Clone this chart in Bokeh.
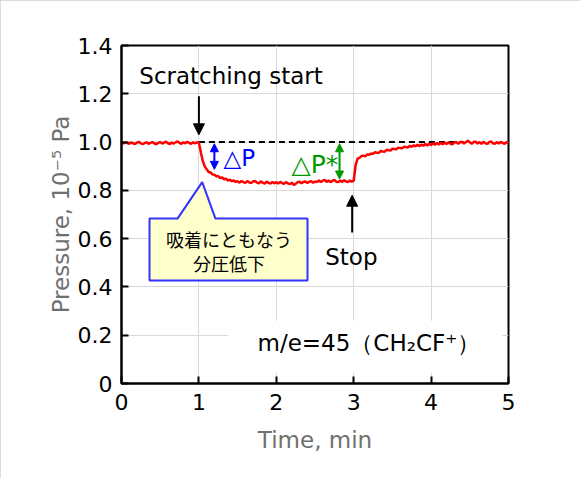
import numpy as np
from bokeh.plotting import figure
from bokeh.models import (FixedTicker, Arrow, NormalHead, Label)
from bokeh.embed import file_html
from bokeh.resources import INLINE

# ---------------- data ----------------
x_ticks = [0, 1, 2, 3, 4, 5]
y_ticks = [0, 0.2, 0.4, 0.6, 0.8, 1.0, 1.2, 1.4]
y_tick_labels = ["0", "0.2", "0.4", "0.6", "0.8", "1.0", "1.2", "1.4"]
step_min = 0.025
pressure = [
    # 0.000 - 0.975
    0.999, 0.994, 1.000, 0.996, 0.993, 0.999, 0.995, 0.992, 0.998, 1.001,
    0.995, 0.991, 0.996, 0.999, 0.993, 0.997, 1.000, 0.994, 0.991, 0.997,
    1.000, 0.994, 0.998, 1.002, 0.995, 0.992, 0.998, 0.994, 0.999, 1.003,
    0.996, 0.993, 0.999, 0.995, 1.001, 0.996, 0.993, 0.999, 0.995, 0.999,
    # 1.000 - 1.475
    0.997, 0.958, 0.922, 0.899, 0.888, 0.876, 0.874, 0.866, 0.865, 0.858,
    0.859, 0.851, 0.853, 0.846, 0.848, 0.841, 0.844, 0.838, 0.841, 0.835,
    # 1.500 - 1.975
    0.838, 0.832, 0.839, 0.834, 0.831, 0.838, 0.833, 0.830, 0.837, 0.839,
    0.832, 0.829, 0.837, 0.832, 0.828, 0.836, 0.831, 0.828, 0.835, 0.829,
    # 2.000 - 2.475
    0.834, 0.828, 0.835, 0.830, 0.827, 0.834, 0.829, 0.826, 0.832, 0.822,
    0.827, 0.834, 0.836, 0.829, 0.835, 0.837, 0.830, 0.836, 0.838, 0.831,
    # 2.500 - 2.975
    0.837, 0.834, 0.841, 0.835, 0.840, 0.843, 0.835, 0.841, 0.834, 0.840,
    0.843, 0.836, 0.834, 0.841, 0.835, 0.842, 0.837, 0.834, 0.841, 0.836,
    # 3.000 - 3.975
    0.840, 0.905, 0.931, 0.935, 0.942, 0.944, 0.941, 0.949, 0.947, 0.953,
    0.951, 0.958, 0.956, 0.955, 0.963, 0.961, 0.960, 0.968, 0.966, 0.965,
    0.973, 0.971, 0.970, 0.977, 0.975, 0.974, 0.981, 0.979, 0.977, 0.985,
    0.980, 0.987, 0.982, 0.989, 0.983, 0.990, 0.985, 0.992, 0.986, 0.993,
    # 4.000 - 4.475
    0.988, 0.995, 0.989, 0.996, 0.990, 0.997, 0.991, 0.998, 0.992, 0.999,
    0.993, 0.991, 0.998, 1.000, 0.993, 0.999, 1.001, 0.994, 1.000, 1.005,
    # 4.500 - 5.000
    0.999, 0.993, 1.000, 1.002, 0.994, 1.000, 0.993, 1.001, 0.996, 0.992,
    1.000, 1.003, 0.995, 0.993, 1.000, 0.994, 1.001, 0.996, 0.993, 1.000, 0.995,
]
time_min = np.arange(len(pressure)) * step_min

FONT = "DejaVu Sans"
JP = "Noto Sans CJK JP"

p = figure(width=580, height=478, x_range=(0, 5), y_range=(0, 1.4),
           output_backend="svg", toolbar_location=None,
           min_border_left=121, min_border_right=72,
           min_border_top=45, min_border_bottom=95)
p.styles = {"outline": "1px solid #d0d0d0", "outline-offset": "-1px"}
p.background_fill_color = "white"
p.border_fill_color = "white"
p.outline_line_color = "black"
p.outline_line_width = 2

p.xaxis.ticker = FixedTicker(ticks=x_ticks)
p.yaxis.ticker = FixedTicker(ticks=y_ticks)
p.xaxis.major_label_overrides = {t: str(t) for t in x_ticks}
p.yaxis.major_label_overrides = dict(zip(y_ticks, y_tick_labels))
for ax in (p.xaxis, p.yaxis):
    ax.axis_line_color = "black"
    ax.axis_line_width = 2
    ax.major_tick_in = 7
    ax.major_tick_out = 0
    ax.major_tick_line_width = 2
    ax.major_tick_line_color = "black"
    ax.minor_tick_line_color = None
    ax.major_label_text_font = FONT
    ax.major_label_text_font_size = "22px"
    ax.major_label_text_color = "black"
    ax.axis_label_text_font = FONT
    ax.axis_label_text_font_size = "23px"
    ax.axis_label_text_font_style = "normal"
    ax.axis_label_text_color = "#707070"
p.xaxis.major_label_standoff = 10
p.yaxis.major_label_standoff = 9
p.xaxis.axis_label = "Time, min"
p.yaxis.axis_label = "Pressure, 10\u207b\u2075 Pa"
p.xaxis.axis_label_standoff = 14
p.yaxis.axis_label_standoff = 1

p.xgrid.grid_line_color = "#d9d9d9"
p.ygrid.grid_line_color = "#d9d9d9"
p.xgrid.grid_line_width = 1
p.ygrid.grid_line_width = 1

# white box behind the species label (hides the grid)
p.quad(left=[1.38], right=[4.92], bottom=[0.045], top=[0.26],
       fill_color="white", line_color=None)

# callout box
p.patch(x=[0.362, 2.403, 2.403, 1.214, 1.043, 0.724, 0.362],
        y=[0.4265, 0.4265, 0.683, 0.683, 0.834, 0.683, 0.683],
        fill_color="#FFFFCC", line_color="#3333FF", line_width=2)

# reference dashed line
p.line(x=[1.0, 4.42], y=[1.0, 1.0], line_color="black", line_width=2,
       line_dash="6 4")

# data
p.line(x=time_min, y=pressure, line_color="#FF0000", line_width=2.5)

# arrows
p.add_layout(Arrow(end=NormalHead(size=11, fill_color="black", line_color="black"),
                   x_start=1.0, y_start=1.19, x_end=1.0, y_end=1.03,
                   line_color="black", line_width=2))
p.add_layout(Arrow(end=NormalHead(size=11, fill_color="black", line_color="black"),
                   x_start=2.98, y_start=0.625, x_end=2.98, y_end=0.78,
                   line_color="black", line_width=2))
p.add_layout(Arrow(start=NormalHead(size=8, fill_color="#0000FF", line_color="#0000FF"),
                   end=NormalHead(size=8, fill_color="#0000FF", line_color="#0000FF"),
                   x_start=1.2, y_start=0.993, x_end=1.2, y_end=0.887,
                   line_color="#0000FF", line_width=2))
p.add_layout(Arrow(start=NormalHead(size=8, fill_color="#009900", line_color="#009900"),
                   end=NormalHead(size=8, fill_color="#009900", line_color="#009900"),
                   x_start=2.817, y_start=0.993, x_end=2.817, y_end=0.847,
                   line_color="#009900", line_width=2))

def lab(x, y, text, size="22px", color="black", align="center", font=FONT, **kw):
    p.add_layout(Label(x=x, y=y, text=text, text_font=font,
                       text_font_size=size, text_color=color,
                       text_align=align, text_baseline="middle", **kw))

lab(1.415, 1.275, "Scratching start", size="23px")
lab(1.318, 0.936, "\u25b3P", size="23px", color="#0000FF", align="left")
lab(2.80, 0.907, "\u25b3P*", size="25px", color="#009900", align="right")
lab(2.97, 0.522, "Stop", size="23px")
lab(1.389, 0.598, "吸着にともなう", size="18px", font=JP)
lab(1.389, 0.499, "分圧低下", size="18px", font=JP)
lab(1.757, 0.166, "m/e=45\uff08CH\u2082CF\u207a\uff09", size="23px", align="left")

open("out.html", "w").write(file_html(p, INLINE))
